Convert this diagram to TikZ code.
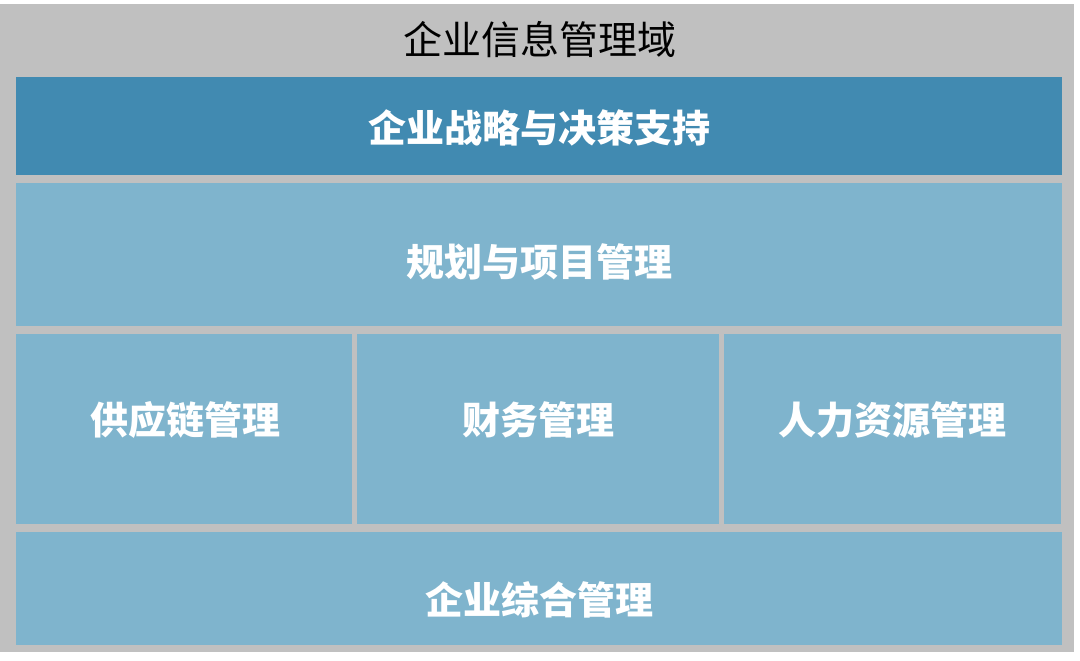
\documentclass[tikz,border=0pt]{standalone}
\usepackage{fontspec}
\newfontfamily\cjk{Noto Sans CJK SC}
\definecolor{bggray}{HTML}{C0C0C0}
\definecolor{darkblue}{HTML}{418AB1}
\definecolor{lightblue}{HTML}{7FB4CD}
\tikzset{
    block/.style={draw=none, inner sep=0pt, anchor=north west},
    label text/.style={font=\cjk\bfseries\fontsize{38}{42}\selectfont, text=white, inner sep=0pt},
}
\begin{document}
\begin{tikzpicture}[x=1pt, y=-1pt]
                \useasboundingbox[fill=white] (0, 0) rectangle (1080, 661);
                \fill[bggray] (0, 4) rectangle (1074, 652);

                \node (title) at (540, 40) [font=\cjk\fontsize{39}{42}\selectfont, inner sep=0pt] { 企业信息管理域 };

                \node[block, fill=darkblue, minimum width=1046pt, minimum height=98pt] (strategy) at (16, 77) {};
                \node[block, fill=lightblue, minimum width=1046pt, minimum height=143pt] (planning) at (16, 183) {};
                \node[block, fill=lightblue, minimum width=336pt, minimum height=190pt] (supply) at (16, 334) {};
                \node[block, fill=lightblue, minimum width=362pt, minimum height=190pt] (finance) at (357, 334) {};
                \node[block, fill=lightblue, minimum width=337pt, minimum height=190pt] (hr) at (724, 334) {};
                \node[block, fill=lightblue, minimum width=1046pt, minimum height=113pt] (general) at (16, 532) {};

                \node[label text] (strategy-t) at (539, 128) { 企业战略与决策支持 };
                \node[label text] (planning-t) at (539, 262) { 规划与项目管理 };
                \node[label text] (supply-t) at (185, 420) { 供应链管理 };
                \node[label text] (finance-t) at (538, 420) { 财务管理 };
                \node[label text] (hr-t) at (892, 420) { 人力资源管理 };
                \node[label text] (general-t) at (539, 600) { 企业综合管理 };
            \end{tikzpicture}
\end{document}
